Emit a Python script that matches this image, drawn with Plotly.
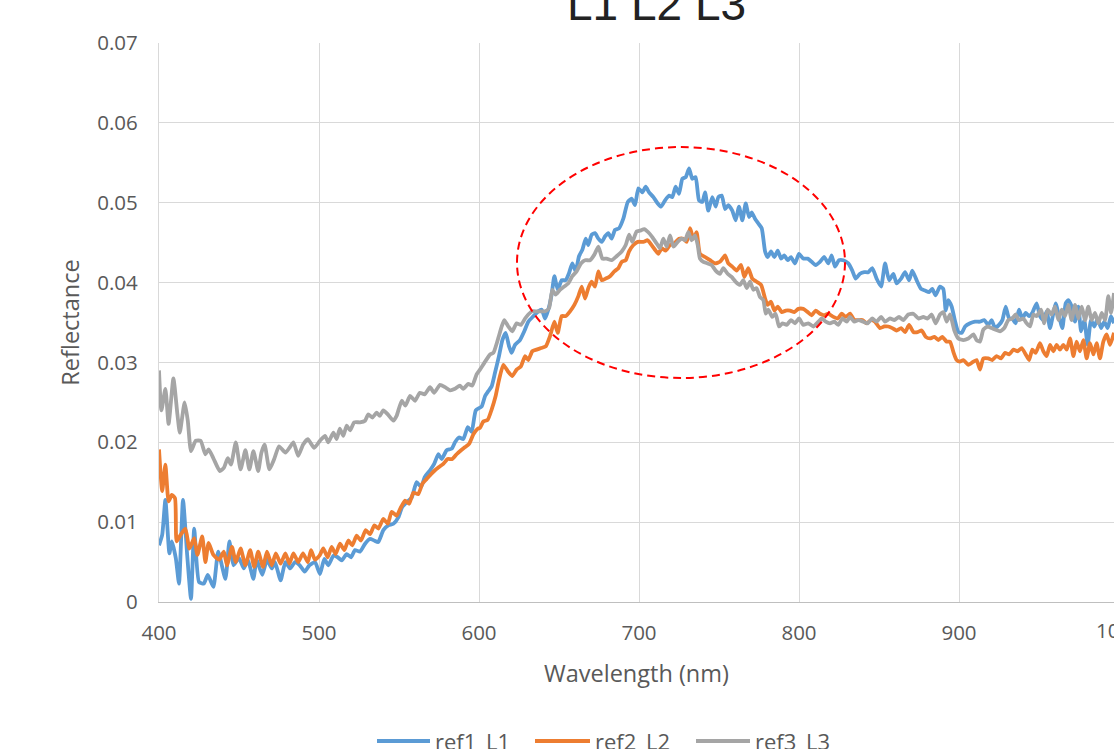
import plotly.graph_objects as go

# ---------------- data ----------------
wl_ref1 = [400, 402, 404, 406.5, 408, 410.5, 412.5, 415, 417.6, 420, 422, 425, 428, 430.5, 434, 437, 441.5, 444, 446.5, 450,
           453, 455.5, 459, 461, 464.5, 467.5, 470.5, 472.5, 476, 479, 482, 485, 488, 491, 494, 497.5,
           500.6, 503.3, 505.8, 509, 511.7, 514.2, 517.3, 520, 522.5, 525.6, 528.8, 531.9, 534.5, 537, 540.2, 543.3, 546.5,
           549.6, 552, 554.8, 558, 561, 563.8, 566, 569.4, 572, 574.6, 576.7, 579.8, 583, 585, 587.5, 590.2, 593, 595.4, 598,
           601.7, 603.8, 605.8, 607.9, 610, 612.5, 614.6, 616.7, 618.8, 620.4, 622.5, 625.6, 628.3, 630.8, 634, 637, 639.2,
           641.3, 643.3, 645.4, 647.1, 649.2, 651.7, 654.2, 656.3, 658.3, 660.4, 662.5, 664.6, 666.7, 668.3, 670.4, 672.5,
           674.6, 676.7, 678.8, 680.8, 682.9, 685, 687.5, 690.2, 693, 695.4, 697.5, 699.6,
           702.1, 704.2, 706.3, 709, 711.7, 713.8, 716.3, 718.8, 720.8, 722.9, 725, 727.1, 729.2, 731.3, 733.3, 735.4, 737.5,
           739.6, 741.3, 743.3, 745.8, 747.9, 749.6, 751.7, 753.8, 755.8, 758.3, 760.4, 762.5, 764.6, 766.7, 768.8, 770.4,
           772.5, 774.6, 776.7, 778.8, 780.4, 782.5, 784.6, 786.7, 788.8, 790.8, 792.9, 795, 797.5,
           800, 802.7, 805.4, 807.9, 810.4, 813.1, 815.8, 818.3, 820.4, 822.5, 825, 827.7, 830.8, 833.3, 835.4, 838.1, 840.8,
           843.3, 845.8, 848.5, 851.3, 853.8, 856.3, 859, 861, 863.8, 866.3, 868.8, 870.8, 873.5, 876.3, 878.8, 881.3, 883.3,
           885.4, 888.1, 890.2, 891.7, 893.3, 895.4, 897.5, 899.6,
           901.7, 903.8, 906.9, 910, 913.1, 915.8, 918.3, 920.4, 922.5, 925, 927.1, 929.2, 931.3, 933.3, 935.4, 937.5, 939.6,
           941.7, 943.8, 945.8, 948.5, 950.6, 952.7, 954.8, 956.9, 959, 960.4, 962.5, 964.6, 966.7, 968.3, 970.4, 972.5,
           974.6, 976.3, 978.3, 980.4, 982.5, 984.6, 986.7, 988.8, 990.8, 992.9, 995, 996.9]
ref1 = [.0071, .0084, .0128, .0061, .0076, .0055, .0023, .0128, .0059, .0004, .0092, .0025, .0023, .0034, .0019, .0063, .0029, .0076, .0046, .0055,
        .0042, .0053, .0029, .0053, .0034, .0053, .0042, .0050, .0027, .0050, .0042, .0050, .0046, .0038, .0046, .0050,
        .0035, .0054, .0046, .0058, .0056, .0052, .0060, .0056, .0065, .0063, .0073, .0079, .0077, .0075, .0090, .0096, .0098,
        .0106, .0119, .0125, .0131, .0150, .0144, .0156, .0165, .0173, .0185, .0179, .0190, .0192, .0200, .0206, .0204, .0219, .0213, .0240,
        .0245, .0258, .0264, .0270, .0287, .0308, .0328, .0337, .0320, .0312, .0322, .0328, .0339, .0351, .0358, .0364, .0366,
        .0355, .0366, .0385, .0408, .0391, .0403, .0403, .0412, .0424, .0414, .0433, .0441, .0455, .0447, .0460, .0462,
        .0455, .0451, .0458, .0462, .0455, .0466, .0468, .0480, .0501, .0505, .0497, .0518,
        .0513, .0520, .0513, .0507, .0499, .0495, .0503, .0509, .0507, .0520, .0511, .0530, .0532, .0543, .0530, .0532, .0503,
        .0501, .0513, .0490, .0507, .0495, .0507, .0509, .0492, .0497, .0490, .0478, .0495, .0478, .0499, .0482, .0488,
        .0480, .0474, .0468, .0439, .0432, .0439, .0432, .0440, .0430, .0434, .0428, .0432, .0424,
        .0436, .0430, .0430, .0426, .0422, .0426, .0432, .0424, .0434, .0420, .0428, .0428, .0424, .0415, .0405, .0411, .0413,
        .0413, .0418, .0405, .0395, .0424, .0403, .0411, .0399, .0405, .0413, .0403, .0415, .0403, .0392, .0390, .0388, .0392,
        .0384, .0395, .0392, .0365, .0378, .0370, .0352, .0338,
        .0337, .0345, .0349, .0351, .0351, .0353, .0347, .0353, .0343, .0347, .0353, .0370, .0355, .0355, .0349, .0366, .0355,
        .0362, .0358, .0362, .0374, .0358, .0353, .0364, .0343, .0362, .0374, .0358, .0343, .0374, .0378, .0370, .0351,
        .0370, .0339, .0353, .0322, .0353, .0345, .0355, .0343, .0351, .0343, .0358, .0349]

wl_ref2 = [400, 402, 404, 406, 408, 410, 411, 413.5, 416.5, 419, 422, 424, 427, 429, 431, 434, 437.5, 440.5, 442.5, 445.6,
           448, 451, 454, 457, 459.5, 462, 465, 467.5, 470.5, 473, 476, 479, 481.5, 484, 487, 490, 493, 495, 497.5,
           500.3, 502.7, 505.4, 507.9, 510.4, 513.1, 515.8, 518.3, 520.8, 523.5, 526.2, 529.2, 531.9, 534.6, 537.1, 540.2,
           543, 545.4, 548.5, 551.3, 553.8, 556.3, 559, 562, 564.6, 567.3, 570, 572.5, 575, 577.7, 580.4, 583.3, 586, 588.8,
           591.3, 593.8, 596.5, 599.2,
           600.6, 602.7, 605.4, 607.9, 610.4, 612.5, 615.2, 618, 620.8, 623.5, 626.2, 628.8, 630.8, 633.3, 636, 638.8, 641.7,
           644.4, 647.1, 649.2, 651.7, 654.2, 656.9, 659.6, 662.1, 664.2, 666.3, 668.3, 670.4, 672.5, 674.6, 676.7, 679.2,
           681.9, 684.6, 687.1, 689.2, 691.7, 693.8, 696.5, 699.2,
           702.7, 705.4, 707.9, 710.4, 712.1, 714.2, 716.7, 719.4, 722.1, 725, 727.7, 729.8, 731.9, 734, 736, 738.1, 741.3,
           744.4, 747.5, 750.6, 753.8, 755.8, 758.3, 761, 763.8, 765.8, 768.3, 770.8, 773.5, 776.3, 778.8, 780.4, 782.5,
           784.6, 786.7, 789.2, 791.7, 794.4, 797.1, 799.6,
           802.7, 805.4, 807.9, 810.4, 813.1, 815.8, 818.3, 821.5, 824.2, 826.7, 829.2, 831.9, 834.6, 837.1, 839.6, 842.3,
           845, 847.5, 850.6, 853.3, 855.8, 858.3, 861, 863.8, 866.3, 868.8, 871.5, 874.2, 876.7, 879.2, 881.9, 884.6, 887.1,
           889.6, 892.3, 894.4, 896.5, 898.5,
           900.6, 902.7, 905.8, 909, 911, 913.1, 915.2, 918.3, 920.8, 923.5, 926.3, 928.8, 931.3, 934, 936.7, 939.2, 941.7,
           943.8, 945.8, 947.9, 950.6, 952.7, 954.8, 956.9, 959, 961, 963.1, 965.2, 967.3, 969.4, 971.5, 973.5, 975.6,
           977.7, 979.8, 981.9, 984, 986, 988.1, 990.2, 992.3, 994.4, 996.9]
ref2 = [.0191, .0139, .0172, .0126, .0134, .0130, .0076, .0084, .0092, .0067, .0080, .0059, .0082, .0050, .0074, .0059, .0053, .0063, .0046, .0069,
        .0050, .0067, .0046, .0065, .0044, .0063, .0044, .0063, .0046, .0061, .0048, .0061, .0048, .0061, .0050, .0061, .0050, .0065, .0053,
        .0058, .0067, .0056, .0069, .0060, .0073, .0065, .0077, .0071, .0083, .0077, .0090, .0085, .0096, .0092, .0104,
        .0098, .0113, .0108, .0119, .0127, .0123, .0137, .0135, .0148, .0154, .0160, .0165, .0169, .0173, .0179, .0179, .0185, .0190,
        .0194, .0198, .0210, .0217,
        .0218, .0226, .0228, .0241, .0258, .0278, .0297, .0289, .0283, .0291, .0295, .0308, .0303, .0314, .0316, .0318, .0320,
        .0333, .0351, .0337, .0358, .0358, .0364, .0372, .0383, .0395, .0380, .0393, .0401, .0395, .0414, .0403, .0405,
        .0408, .0414, .0418, .0426, .0428, .0439, .0447, .0451,
        .0451, .0453, .0447, .0440, .0436, .0443, .0440, .0447, .0449, .0455, .0455, .0451, .0468, .0455, .0463, .0436, .0432,
        .0428, .0424, .0426, .0434, .0424, .0420, .0415, .0422, .0407, .0418, .0405, .0401, .0397, .0380, .0372, .0376,
        .0365, .0370, .0363, .0365, .0365, .0363, .0367,
        .0367, .0363, .0359, .0365, .0361, .0359, .0361, .0357, .0355, .0361, .0357, .0361, .0353, .0353, .0353, .0349,
        .0353, .0351, .0343, .0345, .0345, .0343, .0340, .0343, .0338, .0347, .0338, .0338, .0340, .0332, .0330, .0332, .0328,
        .0332, .0326, .0326, .0313, .0303,
        .0301, .0303, .0297, .0301, .0303, .0291, .0305, .0305, .0303, .0308, .0305, .0312, .0310, .0316, .0314, .0318, .0310,
        .0303, .0316, .0312, .0324, .0314, .0308, .0322, .0314, .0322, .0316, .0322, .0316, .0330, .0308, .0326, .0314,
        .0328, .0305, .0324, .0310, .0324, .0305, .0326, .0335, .0322, .0337]

wl_ref3 = [400, 401.5, 404, 406, 409, 411.5, 413, 416, 418, 420, 423, 426, 429, 431, 434, 438, 440.5, 443, 445, 448,
           451, 454, 456.5, 459, 462, 464, 466, 469, 472, 475, 479, 481.5, 484, 487, 490, 493, 497,
           500.6, 503.8, 505.8, 509, 511, 513, 515.2, 517.3, 519.4, 522, 525.6, 528.8, 530.8, 533.3, 536, 538, 540.2, 543,
           546.5, 548.5, 551.7, 554, 556.9, 560, 563, 566, 569.4, 572, 575.6, 578.8, 581.9, 585, 588, 590.2, 593.3, 595.8, 598.5,
           600.6, 603.8, 606.9, 609, 611.7, 614.2, 615.8, 618.3, 620.8, 623.5, 626.2, 628.8, 630.8, 633.3, 636, 638.8, 641.3,
           643.8, 645.8, 647.9, 650.6, 653.3, 655.8, 658.3, 661, 663.7, 666.3, 669.4, 672.1, 674.6, 677.1, 679.8, 682.9, 686,
           689.2, 691.7, 693.8, 695.8, 698.5,
           700.6, 703.3, 705.8, 708.3, 711, 713.1, 715.2, 717.3, 719.4, 721.5, 724.2, 726.7, 728.8, 730.8, 732.9, 735, 736.7,
           738.1, 740.2, 742.9, 745.4, 747.9, 750.6, 752.7, 755.4, 757.9, 760.4, 763.1, 765.2, 767.3, 769.4, 771.5, 773.5,
           775.6, 777.7, 779.2, 780.8, 783.3, 785.4, 787.5, 789.6, 792.3, 795, 797.5,
           800, 802.7, 805.8, 809, 812.1, 814.2, 816.7, 819.4, 822.1, 824.6, 827.1, 829.8, 831.9, 834.6, 837.1, 840.2, 843,
           845.8, 848.5, 851.3, 853.8, 856.9, 859.6, 862.5, 865.2, 868.3, 871.5, 874.6, 877.7, 880.4, 882.9, 885.4, 888.1,
           890.2, 892.3, 894.4, 897.1, 899.6,
           902.7, 905.8, 909, 911, 913.1, 915.2, 917.9, 920.4, 922.9, 925.6, 928.3, 930.8, 933.3, 935.4, 937.5, 940.2, 942.3,
           944.4, 946.5, 948.5, 951.3, 953.3, 955.4, 957.9, 960, 962.1, 964.2, 966.3, 968.3, 970.4, 972.5, 974.6, 976.7,
           978.8, 980.8, 982.9, 985, 987.1, 989.2, 991.3, 993.3, 995, 996.9]
ref3 = [.0290, .0240, .0267, .0223, .0280, .0235, .0212, .0250, .0227, .0189, .0202, .0202, .0185, .0191, .0180, .0164, .0168, .0180, .0172, .0200,
        .0166, .0190, .0166, .0189, .0164, .0187, .0197, .0166, .0179, .0195, .0187, .0193, .0200, .0183, .0197, .0204, .0193,
        .0202, .0208, .0200, .0212, .0204, .0217, .0208, .0221, .0215, .0225, .0225, .0227, .0235, .0231, .0237, .0233, .0240, .0235,
        .0227, .0233, .0252, .0246, .0258, .0252, .0262, .0260, .0269, .0262, .0272, .0269, .0265, .0267, .0271, .0267, .0273, .0271, .0285,
        .0291, .0301, .0310, .0312, .0328, .0345, .0353, .0345, .0339, .0349, .0347, .0355, .0360, .0364, .0364, .0364, .0364,
        .0368, .0391, .0385, .0391, .0395, .0399, .0408, .0414, .0424, .0428, .0428, .0435, .0445, .0430, .0430, .0428, .0433,
        .0439, .0447, .0460, .0451, .0464,
        .0465, .0467, .0463, .0457, .0449, .0443, .0455, .0445, .0459, .0445, .0451, .0455, .0453, .0463, .0453, .0459, .0447,
        .0430, .0426, .0424, .0422, .0415, .0411, .0418, .0411, .0407, .0401, .0397, .0403, .0393, .0401, .0391, .0393,
        .0382, .0378, .0361, .0366, .0357, .0361, .0345, .0349, .0347, .0353, .0349,
        .0355, .0347, .0349, .0345, .0351, .0355, .0351, .0349, .0351, .0347, .0355, .0351, .0357, .0351, .0353, .0351, .0349,
        .0355, .0351, .0357, .0351, .0355, .0353, .0357, .0353, .0360, .0361, .0355, .0357, .0355, .0360, .0349, .0360,
        .0363, .0351, .0360, .0340, .0330,
        .0328, .0330, .0335, .0328, .0326, .0341, .0345, .0343, .0341, .0339, .0343, .0353, .0355, .0360, .0353, .0355, .0349,
        .0345, .0360, .0358, .0366, .0349, .0366, .0360, .0370, .0353, .0366, .0358, .0372, .0353, .0372, .0355, .0370,
        .0353, .0370, .0353, .0362, .0349, .0362, .0353, .0383, .0362, .0387]

series_names = ["ref1_L1", "ref2_L2", "ref3_L3"]
series_colors = ["#5B9BD5", "#ED7D31", "#A5A5A5"]
x_ticks = [400, 500, 600, 700, 800, 900]
x_tick_beyond = 1000  # label just past the visible right edge
y_ticks = [0, 0.01, 0.02, 0.03, 0.04, 0.05, 0.06, 0.07]
y_ticktext = ["0", "0.01", "0.02", "0.03", "0.04", "0.05", "0.06", "0.07"]
chart_title = "L1 L2 L3"
x_title = "Wavelength (nm)"
y_title = "Reflectance"
x_range = [400, 996.875]
# highlight ellipse bounds (x in nm, y in reflectance)
ellipse_x = [623.75, 828.75]
ellipse_y = [0.02805, 0.05697]

FONT = "Open Sans"
GREY = "#595959"
W, H = 1114, 749
ML, MR, MT, MB = 159, 0, 43, 147
PW, PH = W - ML - MR, H - MT - MB


def px_to_paper_x(px):
    return (px - ML) / PW


def px_to_paper_y(py):
    return (H - MB - py) / PH


fig = go.Figure()
for wl, vals, name, col in zip([wl_ref1, wl_ref2, wl_ref3], [ref1, ref2, ref3], series_names, series_colors):
    fig.add_trace(go.Scatter(x=wl, y=vals, mode="lines", name=name, showlegend=False,
                             line=dict(color=col, width=3.8, shape="spline", smoothing=0.5)))

fig.add_shape(type="circle", xref="x", yref="y",
              x0=ellipse_x[0], x1=ellipse_x[1], y0=ellipse_y[0], y1=ellipse_y[1],
              line=dict(color="#FF0000", width=2, dash="8px,5px"))

fig.update_layout(
    width=W, height=H,
    margin=dict(l=ML, r=MR, t=MT, b=MB, autoexpand=False),
    paper_bgcolor="white", plot_bgcolor="white",
    font=dict(family=FONT, color=GREY, size=20),
    showlegend=False,
)
fig.update_xaxes(range=x_range, tickvals=x_ticks, ticktext=[str(v) for v in x_ticks],
                 showgrid=True, gridcolor="#D9D9D9", gridwidth=1.3,
                 showline=True, linecolor="#BFBFBF", linewidth=1.3, zeroline=False,
                 ticks="", ticklabelstandoff=12, tickfont=dict(size=20.5, color=GREY),
                 title=dict(text=x_title, font=dict(size=23.5, color=GREY), standoff=20))
fig.update_yaxes(range=[0, 0.07], tickvals=y_ticks, ticktext=y_ticktext,
                 showgrid=True, gridcolor="#D9D9D9", gridwidth=1.3,
                 showline=True, linecolor="#D9D9D9", linewidth=1.3, zeroline=False,
                 ticks="", ticklabelstandoff=16, tickfont=dict(size=20.5, color=GREY),
                 title=dict(text=y_title, font=dict(size=23.5, color=GREY), standoff=10))

# tick label for 1000, positioned from the axis scale (paper units), cut by the right edge
x_paper_1000 = (x_tick_beyond - x_range[0]) / (x_range[1] - x_range[0])
fig.add_annotation(x=x_paper_1000, xref="paper", xanchor="center", y=0, yref="paper", yanchor="top", yshift=-12,
                   text=str(x_tick_beyond), showarrow=False, font=dict(size=20.5, color=GREY, family=FONT))
# chart title (partly cut off at top)
fig.add_annotation(x=px_to_paper_x(656), xref="paper", xanchor="center", y=1.0, yref="paper", yanchor="bottom",
                   yshift=11, text=chart_title, showarrow=False,
                   font=dict(size=46, color="#222222", family="Liberation Sans"))

# legend drawn at the bottom (partly cut off), one line sample + label per series
legend_line_px = [(377, 430), (535, 590), (696, 750)]
legend_y = px_to_paper_y(741)
for (x0, x1), name, col in zip(legend_line_px, series_names, series_colors):
    fig.add_shape(type="line", xref="paper", yref="paper",
                  x0=px_to_paper_x(x0), x1=px_to_paper_x(x1), y0=legend_y, y1=legend_y,
                  line=dict(color=col, width=4))
    fig.add_annotation(x=px_to_paper_x(x1 + 3), xref="paper", y=legend_y, yref="paper",
                       xanchor="left", yanchor="middle", text=name, showarrow=False,
                       font=dict(size=22, color=GREY, family=FONT))

fig.write_html("out.html", config={"displayModeBar": False},
               post_script="document.body.style.margin='0px';document.body.style.overflow='hidden';")
